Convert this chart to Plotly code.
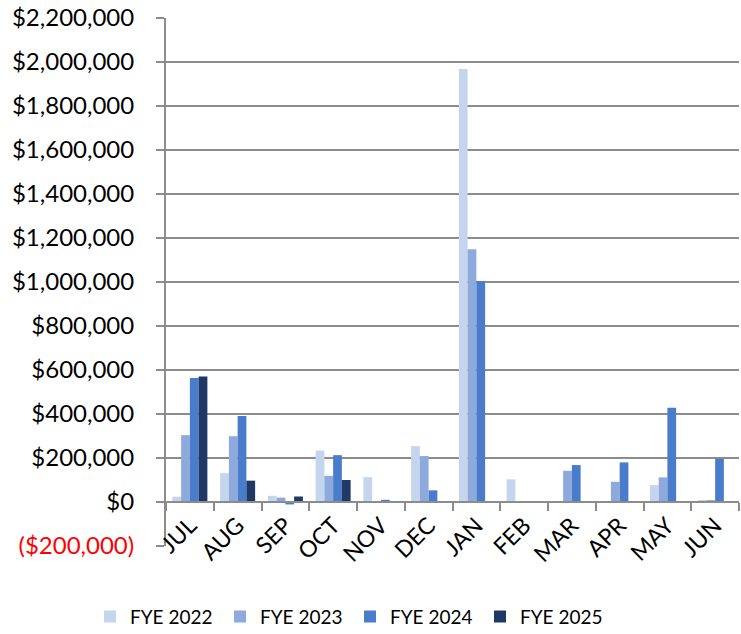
import plotly.graph_objects as go

months = ["JUL", "AUG", "SEP", "OCT", "NOV", "DEC", "JAN", "FEB", "MAR", "APR", "MAY", "JUN"]
fye2022 = [24000, 131000, 28000, 234000, 113000, 254000, 1968000, 103000, 0, 0, 77000, 9000]
fye2023 = [304000, 299000, 20000, 119000, 0, 209000, 1149000, 0, 142000, 92000, 112000, 9000]
fye2024 = [564000, 391000, -11000, 213000, 10000, 53000, 1005000, 0, 168000, 180000, 428000, 196000]
fye2025 = [571000, 97000, 25000, 100000, None, None, None, None, None, None, None, None]

series_names = ["FYE 2022", "FYE 2023", "FYE 2024", "FYE 2025"]
series_values = [fye2022, fye2023, fye2024, fye2025]
series_colors = ["#C5D5EE", "#8EAADC", "#4A7CCC", "#1F3864"]

y_tick_vals = list(range(-200000, 2200001, 200000))
y_tick_text = ['<span style="color:#FF0000">($200,000)</span>'] + [
    "${:,}".format(v) for v in y_tick_vals[1:]
]

FONT = "Lato, Liberation Sans, sans-serif"

fig = go.Figure()
for name, vals, col in zip(series_names, series_values, series_colors):
    fig.add_trace(go.Bar(x=months, y=vals, name=name, marker=dict(color=col, line=dict(width=0))))

fig.update_layout(
    width=741, height=634,
    margin=dict(l=166, r=2, t=18, b=88, autoexpand=False),
    paper_bgcolor="white", plot_bgcolor="white",
    barmode="group", bargap=0.267, bargroupgap=0,
    font=dict(family=FONT, size=22, color="black"),
    showlegend=True,
    legend=dict(orientation="h", x=-0.1326, xanchor="left", y=-0.134, yanchor="middle",
                font=dict(size=19), entrywidth=85, entrywidthmode="pixels",
                traceorder="normal"),
)
fig.update_yaxes(
    range=[-200000, 2200400], tickvals=y_tick_vals, ticktext=y_tick_text,
    showgrid=True, gridcolor="#8C8C8C", gridwidth=2,
    showline=True, linecolor="#8C8C8C", linewidth=2,
    ticks="outside", ticklen=8, tickcolor="#8C8C8C", tickwidth=2,
    zeroline=False, ticklabelstandoff=17, automargin=False,
    ticklabeloverflow="allow",
    tickfont=dict(size=24),
)
fig.update_xaxes(
    anchor="free", position=1/12,
    showline=True, linecolor="#8C8C8C", linewidth=2,
    ticks="outside", ticklen=8, tickcolor="#8C8C8C", tickwidth=2,
    tickson="boundaries", tickangle=-45, showgrid=False, automargin=False,
    tickfont=dict(size=23),
)

fig.write_html("out.html", config={"displayModeBar": False},
               post_script="document.body.style.margin='0';")
